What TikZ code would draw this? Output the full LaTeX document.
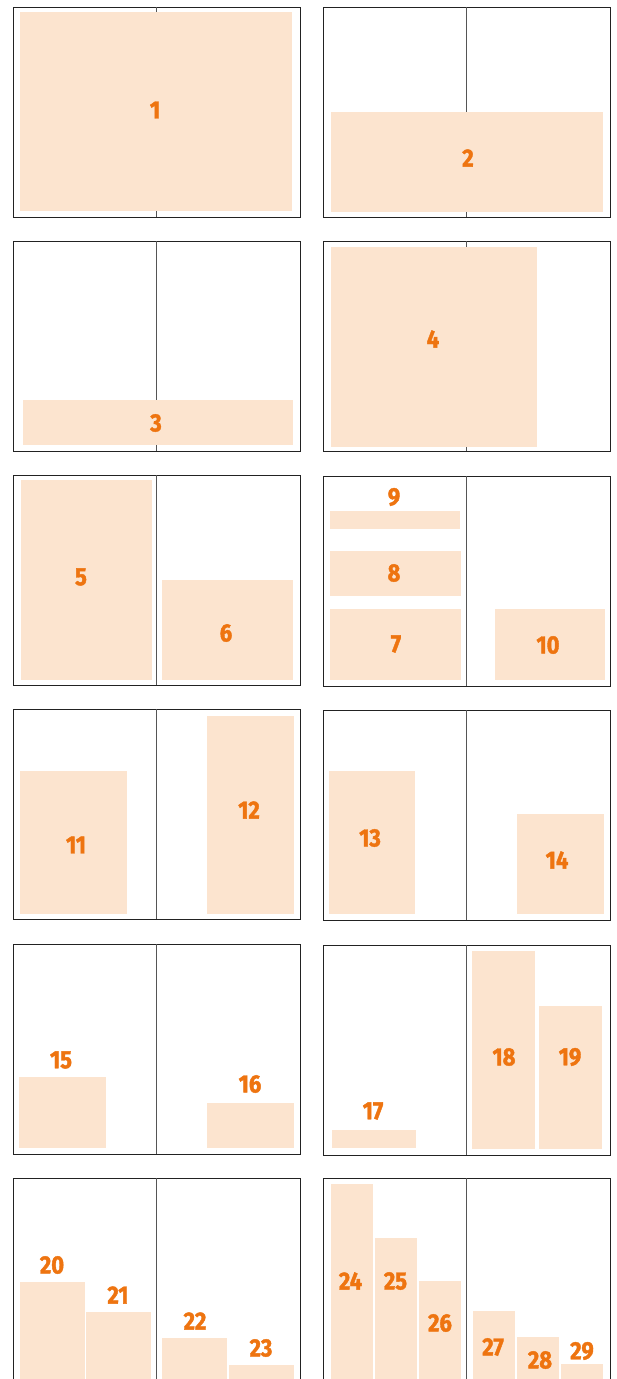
\documentclass[tikz,border=0pt]{standalone}
\usepackage{fontspec}
\setmainfont{Fira Sans}
\newfontfamily\numfont{Fira Sans Bold}[FakeBold=1.6,FakeStretch=0.88]
\definecolor{pagefill}{HTML}{FCE4CF}
\definecolor{numcol}{HTML}{EE7410}
\definecolor{framecol}{HTML}{222222}
\definecolor{spinecol}{HTML}{555555}
\tikzset{
  pageframe/.style={draw=framecol,line width=1pt},
  spine/.style={draw=spinecol,line width=1pt},
  blk/.style={fill=pagefill},
  num/.style={text=numcol,font=\numfont\fontsize{25}{25}\selectfont,inner sep=0pt}
}
\newcommand\spreadbox[2]{%
  \draw[pageframe] (#1,#2) rectangle ++(287,210);
  \draw[spine] (#1+143.5,#2) -- ++(0,210);
}
\begin{document}
\begin{tikzpicture}[x=1pt,y=-1pt]
\clip (0,0) rectangle (616,1379);
\fill[white] (0,0) rectangle (616,1379);
% frames
\spreadbox{13}{7}\spreadbox{323}{7}
\spreadbox{13}{241}\spreadbox{323}{241}
\spreadbox{13}{475}\spreadbox{323}{476}
\spreadbox{13}{709}\spreadbox{323}{710}
\spreadbox{13}{944}\spreadbox{323}{945}
\spreadbox{13}{1178}\spreadbox{323}{1178}
% blocks
\fill[blk] (20,12) rectangle (292,210.5);
\fill[blk] (331,112) rectangle (603,211.5);
\fill[blk] (23,400) rectangle (293,445);
\fill[blk] (331,247) rectangle (537,447);
\fill[blk] (20.5,480) rectangle (151.5,680);
\fill[blk] (161.5,580) rectangle (292.5,680);
\fill[blk] (330,511) rectangle (460,529);
\fill[blk] (330,551) rectangle (460.5,596);
\fill[blk] (330,609) rectangle (460.5,680);
\fill[blk] (495,609) rectangle (604.5,680);
\fill[blk] (19.5,771) rectangle (126.5,914);
\fill[blk] (206.5,716) rectangle (293.5,914);
\fill[blk] (328.5,771) rectangle (414.5,914);
\fill[blk] (516.5,814) rectangle (603.5,914);
\fill[blk] (18.5,1077) rectangle (105.5,1148);
\fill[blk] (206.5,1103) rectangle (293.5,1148);
\fill[blk] (331.5,1130) rectangle (415.5,1148);
\fill[blk] (471.5,951) rectangle (535,1149);
\fill[blk] (538.5,1006) rectangle (601.5,1149);
\fill[blk] (19.5,1282) rectangle (84.5,1390);
\fill[blk] (85.5,1312) rectangle (150.5,1390);
\fill[blk] (161.5,1338) rectangle (226.5,1390);
\fill[blk] (228.5,1365) rectangle (293.5,1390);
\fill[blk] (331,1184) rectangle (372.5,1390);
\fill[blk] (375,1238) rectangle (416.5,1390);
\fill[blk] (419,1281) rectangle (460.5,1390);
\fill[blk] (472.5,1311) rectangle (514.5,1390);
\fill[blk] (516.5,1337) rectangle (559,1390);
\fill[blk] (561,1364) rectangle (603,1390);
% labels
\node[num] (n1) at (155,110) {1};
\node[num] (n2) at (468,158) {2};
\node[num] (n3) at (156,423) {3};
\node[num] (n4) at (433,339) {4};
\node[num] (n5) at (81,577) {5};
\node[num] (n6) at (226,633) {6};
\node[num] (n7) at (396,644) {7};
\node[num] (n8) at (394,573) {8};
\node[num] (n9) at (394,497) {9};
\node[num] (n10) at (548,645) {10};
\node[num] (n11) at (76,845) {11};
\node[num] (n12) at (249,810) {12};
\node[num] (n13) at (370,838) {13};
\node[num] (n14) at (557,860) {14};
\node[num] (n15) at (61,1060) {15};
\node[num] (n16) at (250,1084) {16};
\node[num] (n17) at (373,1111) {17};
\node[num] (n18) at (504,1057) {18};
\node[num] (n19) at (570,1057) {19};
\node[num] (n20) at (52,1265) {20};
\node[num] (n21) at (118,1295) {21};
\node[num] (n22) at (195,1321) {22};
\node[num] (n23) at (261,1348) {23};
\node[num] (n24) at (350.5,1281) {24};
\node[num] (n25) at (395.5,1281) {25};
\node[num] (n26) at (440,1323) {26};
\node[num] (n27) at (493,1347) {27};
\node[num] (n28) at (540,1360) {28};
\node[num] (n29) at (582,1351) {29};
\end{tikzpicture}
\end{document}
